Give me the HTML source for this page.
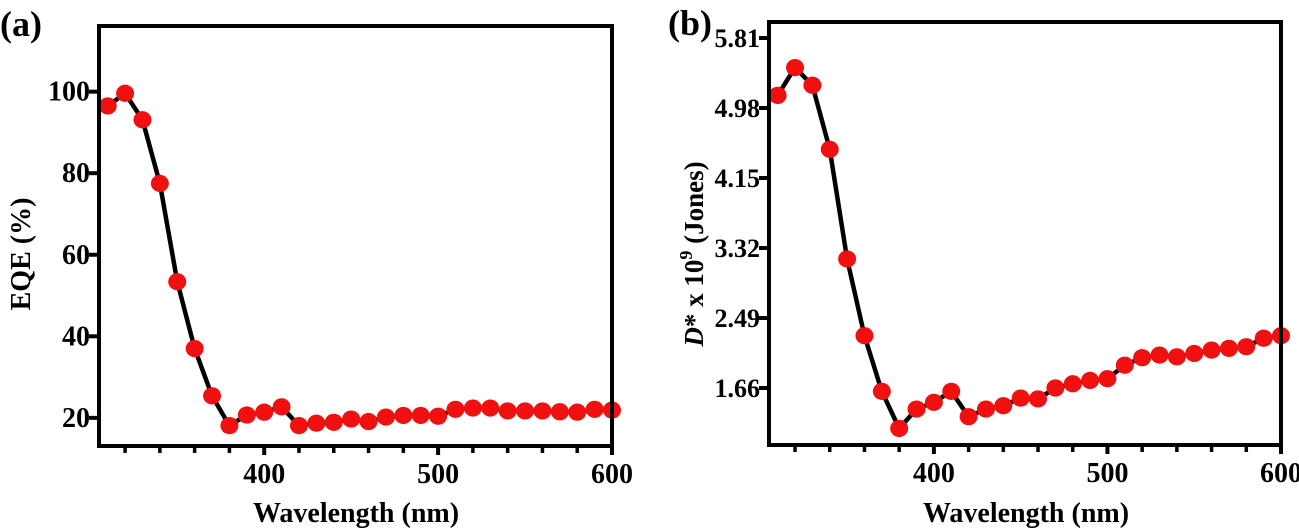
<!DOCTYPE html>
<html><head><meta charset="utf-8"><style>
html,body{margin:0;padding:0;background:#fff;}
svg{display:block;font-family:"Liberation Serif",serif;font-weight:bold;}
</style></head><body>
<svg id="chart" width="1299" height="532" viewBox="0 0 1299 532"></svg>
<script>
const wavelengths=[310,320,330,340,350,360,370,380,390,400,410,420,430,440,450,460,470,480,490,500,510,520,530,540,550,560,570,580,590,600];
const eqeValues=[96.5,99.6,93.1,77.5,53.4,37,25.4,18.1,20.7,21.4,22.7,18.1,18.7,18.9,19.7,19.1,20.2,20.6,20.6,20.4,22.1,22.4,22.4,21.7,21.7,21.7,21.5,21.4,22.1,21.9];
const detValues=[5.13,5.46,5.25,4.49,3.19,2.28,1.62,1.18,1.41,1.49,1.62,1.32,1.41,1.45,1.54,1.53,1.66,1.71,1.75,1.77,1.93,2.02,2.05,2.03,2.07,2.11,2.13,2.15,2.25,2.28];
const xTickLabels=[400,500,600];
const eqeTicks=[20,40,60,80,100];
const detTicks=["1.66","2.49","3.32","4.15","4.98","5.81"];

const NS="http://www.w3.org/2000/svg";
const svg=document.getElementById('chart');
function mk(tag,attrs,parent){const e=document.createElementNS(NS,tag);for(const k in attrs)e.setAttribute(k,attrs[k]);(parent||svg).appendChild(e);return e;}

function panel(cfg){
  const g=mk('g',{});
  
  
  const L=cfg.L,R=cfg.R,T=cfg.T,B=cfg.B;
  const xs=v=>L+(v-305)/(600-305)*(R-L);
  const ys=v=>B-(v-cfg.ymin)/(cfg.ymax-cfg.ymin)*(B-T);
  const pts=wavelengths.map((w,i)=>xs(w)+','+ys(cfg.vals[i])).join(' ');
  const ln=mk('polyline',{points:pts,fill:'none',stroke:'#000','stroke-width':4.5},g);
  
  
  wavelengths.forEach((w,i)=>{
    const c=mk('ellipse',{cx:xs(w),cy:ys(cfg.vals[i]),rx:9,ry:8.6,fill:'#f01010'},g);
    
    
  });
  const fr=mk('rect',{x:L,y:T,width:R-L,height:B-T,fill:'none',stroke:'#000','stroke-width':4},g);
  
  
  for(let w=320;w<=600;w+=20){
    const major=(w%100===0);
    const t=mk('line',{x1:xs(w),x2:xs(w),y1:B,y2:B+(major?9:7),stroke:'#000','stroke-width':major?4:3.5},g);
    
    
  }
  xTickLabels.forEach(v=>{
    const t=mk('text',{x:xs(v),y:B+37,'text-anchor':'middle','font-size':28},g);
    t.textContent=v;
    
    
  });
  cfg.ticks.forEach(v=>{
    const y=ys(parseFloat(v));
    const t=mk('line',{x1:L-10,x2:L,y1:y,y2:y,stroke:'#000','stroke-width':4},g);
    
    
    const lb=mk('text',{x:L-9,y:y+9,'text-anchor':'end','font-size':cfg.yfs},g);
    lb.textContent=v;
    
    
  });
  const xt=mk('text',{x:cfg.xtx,y:522,'text-anchor':'middle','font-size':28},g);
  xt.textContent='Wavelength (nm)';
  
  
  return {g,xs,ys};
}

panel({name:'panel-a-eqe',L:99,R:612,T:26,B:446,ymin:13.1,ymax:116.1,vals:eqeValues,ticks:eqeTicks,yfs:28,xtx:356});
panel({name:'panel-b-detectivity',L:769,R:1281,T:22,B:445,ymin:0.984,ymax:6.0,vals:detValues,ticks:detTicks,yfs:26,xtx:1026});

let t=mk('text',{x:0,y:36,'font-size':36});t.textContent='(a)';


t=mk('text',{x:668,y:35,'font-size':36});t.textContent='(b)';



t=mk('text',{x:0,y:0,'font-size':28,'text-anchor':'middle',transform:'translate(30,254) rotate(-90)'});
t.textContent='EQE (%)';



t=mk('text',{x:0,y:0,'font-size':27,'text-anchor':'middle',transform:'translate(703,254) rotate(-90)'});
t.innerHTML='<tspan font-style="italic">D</tspan>* x 10<tspan dy="-11" font-size="18">9</tspan><tspan dy="11"> (Jones)</tspan>';


</script>
</body></html>
